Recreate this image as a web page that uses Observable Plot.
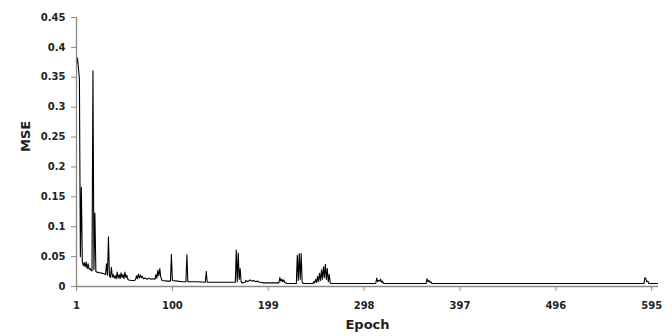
<!DOCTYPE html>
<html>
<head>
<meta charset="utf-8">
<script src="https://cdn.jsdelivr.net/npm/d3@7"></script>
<script src="https://cdn.jsdelivr.net/npm/@observablehq/plot@0.6"></script>
<style>
  html, body { margin: 0; padding: 0; background: #fff; }
  #chart { width: 672px; height: 336px; }
</style>
</head>
<body>
<div id="chart"></div>
<script>
const epochs = [
  1, 2, 3, 4, 5, 6, 7, 8, 9, 10, 11, 12, 13, 14, 15, 16, 17, 18, 19, 20, 21, 22, 25, 28, 30,
  31, 32, 33, 34, 35, 36, 37, 38, 39, 40, 41, 42, 43, 44, 45, 46, 47, 48, 49, 50, 51, 52, 53, 54, 55,
  58, 61, 62, 63, 64, 65, 66, 67, 68, 69, 70, 72, 74, 76, 78, 80, 82, 83, 84, 85, 86, 87, 88, 89, 90,
  95, 98, 99, 100, 105, 110, 114, 115, 116, 125, 134, 135, 136, 165, 166, 167, 168, 169, 170, 171, 172,
  175, 176, 178, 180, 182, 184, 186, 188, 190, 195, 205, 210, 211, 212, 213, 214, 215, 216, 218,
  228, 229, 230, 231, 232, 233, 234, 235, 245, 246, 247, 248, 249, 250, 251, 252, 253, 254, 255, 256,
  257, 258, 259, 260, 261, 262, 263, 264, 310, 311, 312, 313, 314, 315, 316, 317, 318,
  362, 363, 364, 365, 366, 367, 368, 587, 588, 589, 590, 591, 592, 601
];
const mse = [
  0.372, 0.382, 0.365, 0.348, 0.05, 0.166, 0.042, 0.035, 0.04, 0.033, 0.041, 0.03, 0.038, 0.029, 0.03, 0.027, 0.026, 0.361, 0.028, 0.123, 0.025, 0.024, 0.023, 0.022, 0.021,
  0.02, 0.038, 0.019, 0.083, 0.018, 0.015, 0.032, 0.016, 0.02, 0.014, 0.018, 0.013, 0.024, 0.014, 0.02, 0.013, 0.023, 0.015, 0.02, 0.013, 0.024, 0.015, 0.019, 0.012, 0.011,
  0.01, 0.01, 0.012, 0.018, 0.013, 0.021, 0.014, 0.019, 0.015, 0.017, 0.013, 0.014, 0.012, 0.014, 0.012, 0.013, 0.012, 0.02, 0.014, 0.027, 0.018, 0.03, 0.016, 0.011, 0.01,
  0.009, 0.009, 0.054, 0.01, 0.009, 0.008, 0.008, 0.053, 0.008, 0.008, 0.007, 0.025, 0.007, 0.007, 0.061, 0.008, 0.056, 0.012, 0.03, 0.008, 0.006,
  0.007, 0.01, 0.008, 0.011, 0.009, 0.01, 0.008, 0.009, 0.007, 0.006, 0.006, 0.006, 0.015, 0.009, 0.012, 0.008, 0.011, 0.007, 0.005,
  0.005, 0.052, 0.01, 0.055, 0.012, 0.055, 0.008, 0.005, 0.005, 0.008, 0.006, 0.012, 0.007, 0.017, 0.008, 0.022, 0.01, 0.028, 0.012, 0.033,
  0.015, 0.037, 0.012, 0.03, 0.008, 0.02, 0.006, 0.005, 0.005, 0.014, 0.008, 0.01, 0.009, 0.012, 0.007, 0.009, 0.005,
  0.005, 0.013, 0.008, 0.01, 0.007, 0.008, 0.005, 0.005, 0.015, 0.012, 0.008, 0.009, 0.005, 0.005
];
const xTicks = [1, 100, 199, 298, 397, 496, 595];
const yTicks = [0, 0.05, 0.1, 0.15, 0.2, 0.25, 0.3, 0.35, 0.4, 0.45];
const xTitle = "Epoch";
const yTitle = "MSE";

const data = epochs.map((e, i) => ({epoch: e, mse: mse[i]}));
const font = "DejaVu Sans, sans-serif";
const axisGray = "#8a8a8a";

const chart = Plot.plot({
  width: 672,
  height: 336,
  marginLeft: 76,
  marginRight: 14,
  marginTop: 17,
  marginBottom: 50,
  style: {fontFamily: font, background: "#fff"},
  x: {domain: [1, 602]},
  y: {domain: [0, 0.45]},
  marks: [
    Plot.lineY(data, {x: "epoch", y: "mse", stroke: "#000", strokeWidth: 1.1}),
    Plot.ruleY([0], {stroke: axisGray, strokeWidth: 1.6}),
    Plot.ruleX([1], {stroke: axisGray, strokeWidth: 1.3}),
    Plot.axisY({ticks: yTicks, tickSize: 5, tickPadding: 6, stroke: axisGray,
      tickFormat: d => String(+d.toFixed(2)), label: null,
      fontSize: 10, fontWeight: "bold", fill: "#222"}),
    Plot.axisX({ticks: xTicks, tickSize: 5, tickPadding: 10, stroke: axisGray,
      tickFormat: d => String(d), label: null,
      fontSize: 10, fontWeight: "bold", fill: "#222"}),
    Plot.text([xTitle], {text: d => d, frameAnchor: "bottom", dy: 42,
      fontSize: 13, fontWeight: "bold", fill: "#222"}),
    Plot.text([yTitle], {text: d => d, frameAnchor: "left", dx: -51, rotate: -90,
      fontSize: 13, fontWeight: "bold", fill: "#222"})
  ]
});
document.getElementById("chart").appendChild(chart);
</script>
</body>
</html>
